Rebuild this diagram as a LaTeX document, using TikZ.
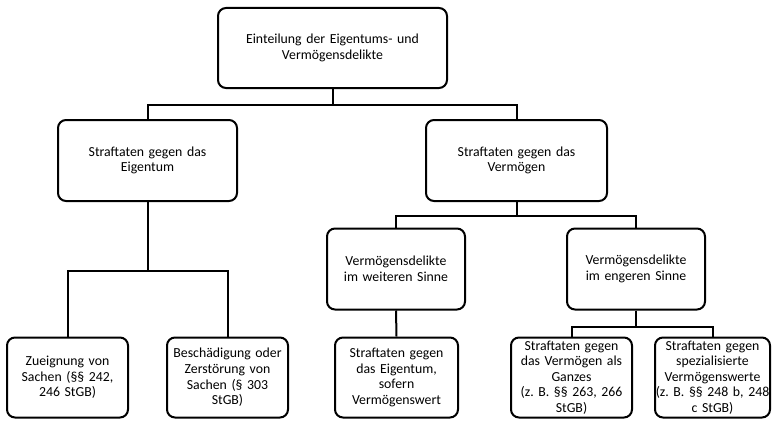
\documentclass[tikz,border=0pt]{standalone}
\usepackage{fontspec}
\setmainfont{Carlito}
\usepackage{tikz}
\usetikzlibrary{positioning,calc}

\begin{document}
\begin{tikzpicture}[
        x=1pt, y=-1pt,
        % Stil fuer alle Kaesten: weiss, abgerundet, dicker Rand
        kasten/.style={
            rectangle,
            draw=black,
            line width=2pt,
            rounded corners=8pt,
            align=center,
            inner sep=0pt,
            font=\fontsize{13.8}{15.6}\selectfont\frenchspacing
        },
        % Stil fuer die Verbindungslinien
        kante/.style={
            draw=black,
            line width=2pt
        }
    ]
        \useasboundingbox (0,0) rectangle (773,420);

        % --- KAESTEN ---
        % Wurzel
        \node[kasten, text width=229pt, minimum height=80pt] (einteilung) at (332.5,48)
            {Einteilung der Eigentums- und\\Vermögensdelikte};

        % Erste Ebene
        \node[kasten, text width=179pt, minimum height=81pt] (eigentum) at (147.5,160.5)
            {Straftaten gegen das\\Eigentum};
        \node[kasten, text width=181pt, minimum height=81pt] (vermoegen) at (516.5,160.5)
            {Straftaten gegen das\\Vermögen};

        % Zweite Ebene (unter Vermoegen)
        \node[kasten, text width=138pt, minimum height=81pt] (weiter) at (396,269)
            {Vermögensdelikte\\im weiteren Sinne};
        \node[kasten, text width=138pt, minimum height=81pt] (enger) at (636,269)
            {Vermögensdelikte\\im engeren Sinne};

        % Blaetter (unterste Reihe)
        \node[kasten, text width=121pt, minimum height=80pt] (zueignung) at (67.5,377.5)
            {Zueignung von\\Sachen (§§ 242,\\246 StGB)};
        \node[kasten, text width=121pt, minimum height=80pt] (zerstoerung) at (227.5,377.5)
            {Beschädigung oder\\Zerstörung von\\Sachen (§ 303\\StGB)};
        \node[kasten, text width=123pt, minimum height=80pt] (sofern) at (396.5,377.5)
            {Straftaten gegen\\das Eigentum,\\sofern\\Vermögenswert};
        \node[kasten, text width=121pt, minimum height=80pt] (ganzes) at (571.5,377.5)
            {Straftaten gegen\\das Vermögen als\\Ganzes\\(z. B. §§ 263, 266\\StGB)};
        \node[kasten, text width=115pt, minimum height=80pt] (spezial) at (712.5,377.5)
            {Straftaten gegen\\spezialisierte\\Vermögenswerte\\(z. B. §§ 248 b, 248\\c StGB)};

        % --- LINIEN ---
        \draw[kante] (einteilung.south) -- ++(0,-16pt) -| (eigentum.north);
        \draw[kante] (einteilung.south) -- ++(0,-16pt) -| (vermoegen.north);

        \draw[kante] (eigentum.south) -- ++(0,-69pt) -| (zueignung.north);
        \draw[kante] (eigentum.south) -- ++(0,-69pt) -| (zerstoerung.north);

        \draw[kante] (vermoegen.south) -- ++(0,-14pt) -| (weiter.north);
        \draw[kante] (vermoegen.south) -- ++(0,-14pt) -| (enger.north);

        \draw[kante] (weiter.south) -- (sofern.north);

        \draw[kante] (enger.south) -- ++(0,-16pt) -| (ganzes.north);
        \draw[kante] (enger.south) -- ++(0,-16pt) -| (spezial.north);

    \end{tikzpicture}
\end{document}
